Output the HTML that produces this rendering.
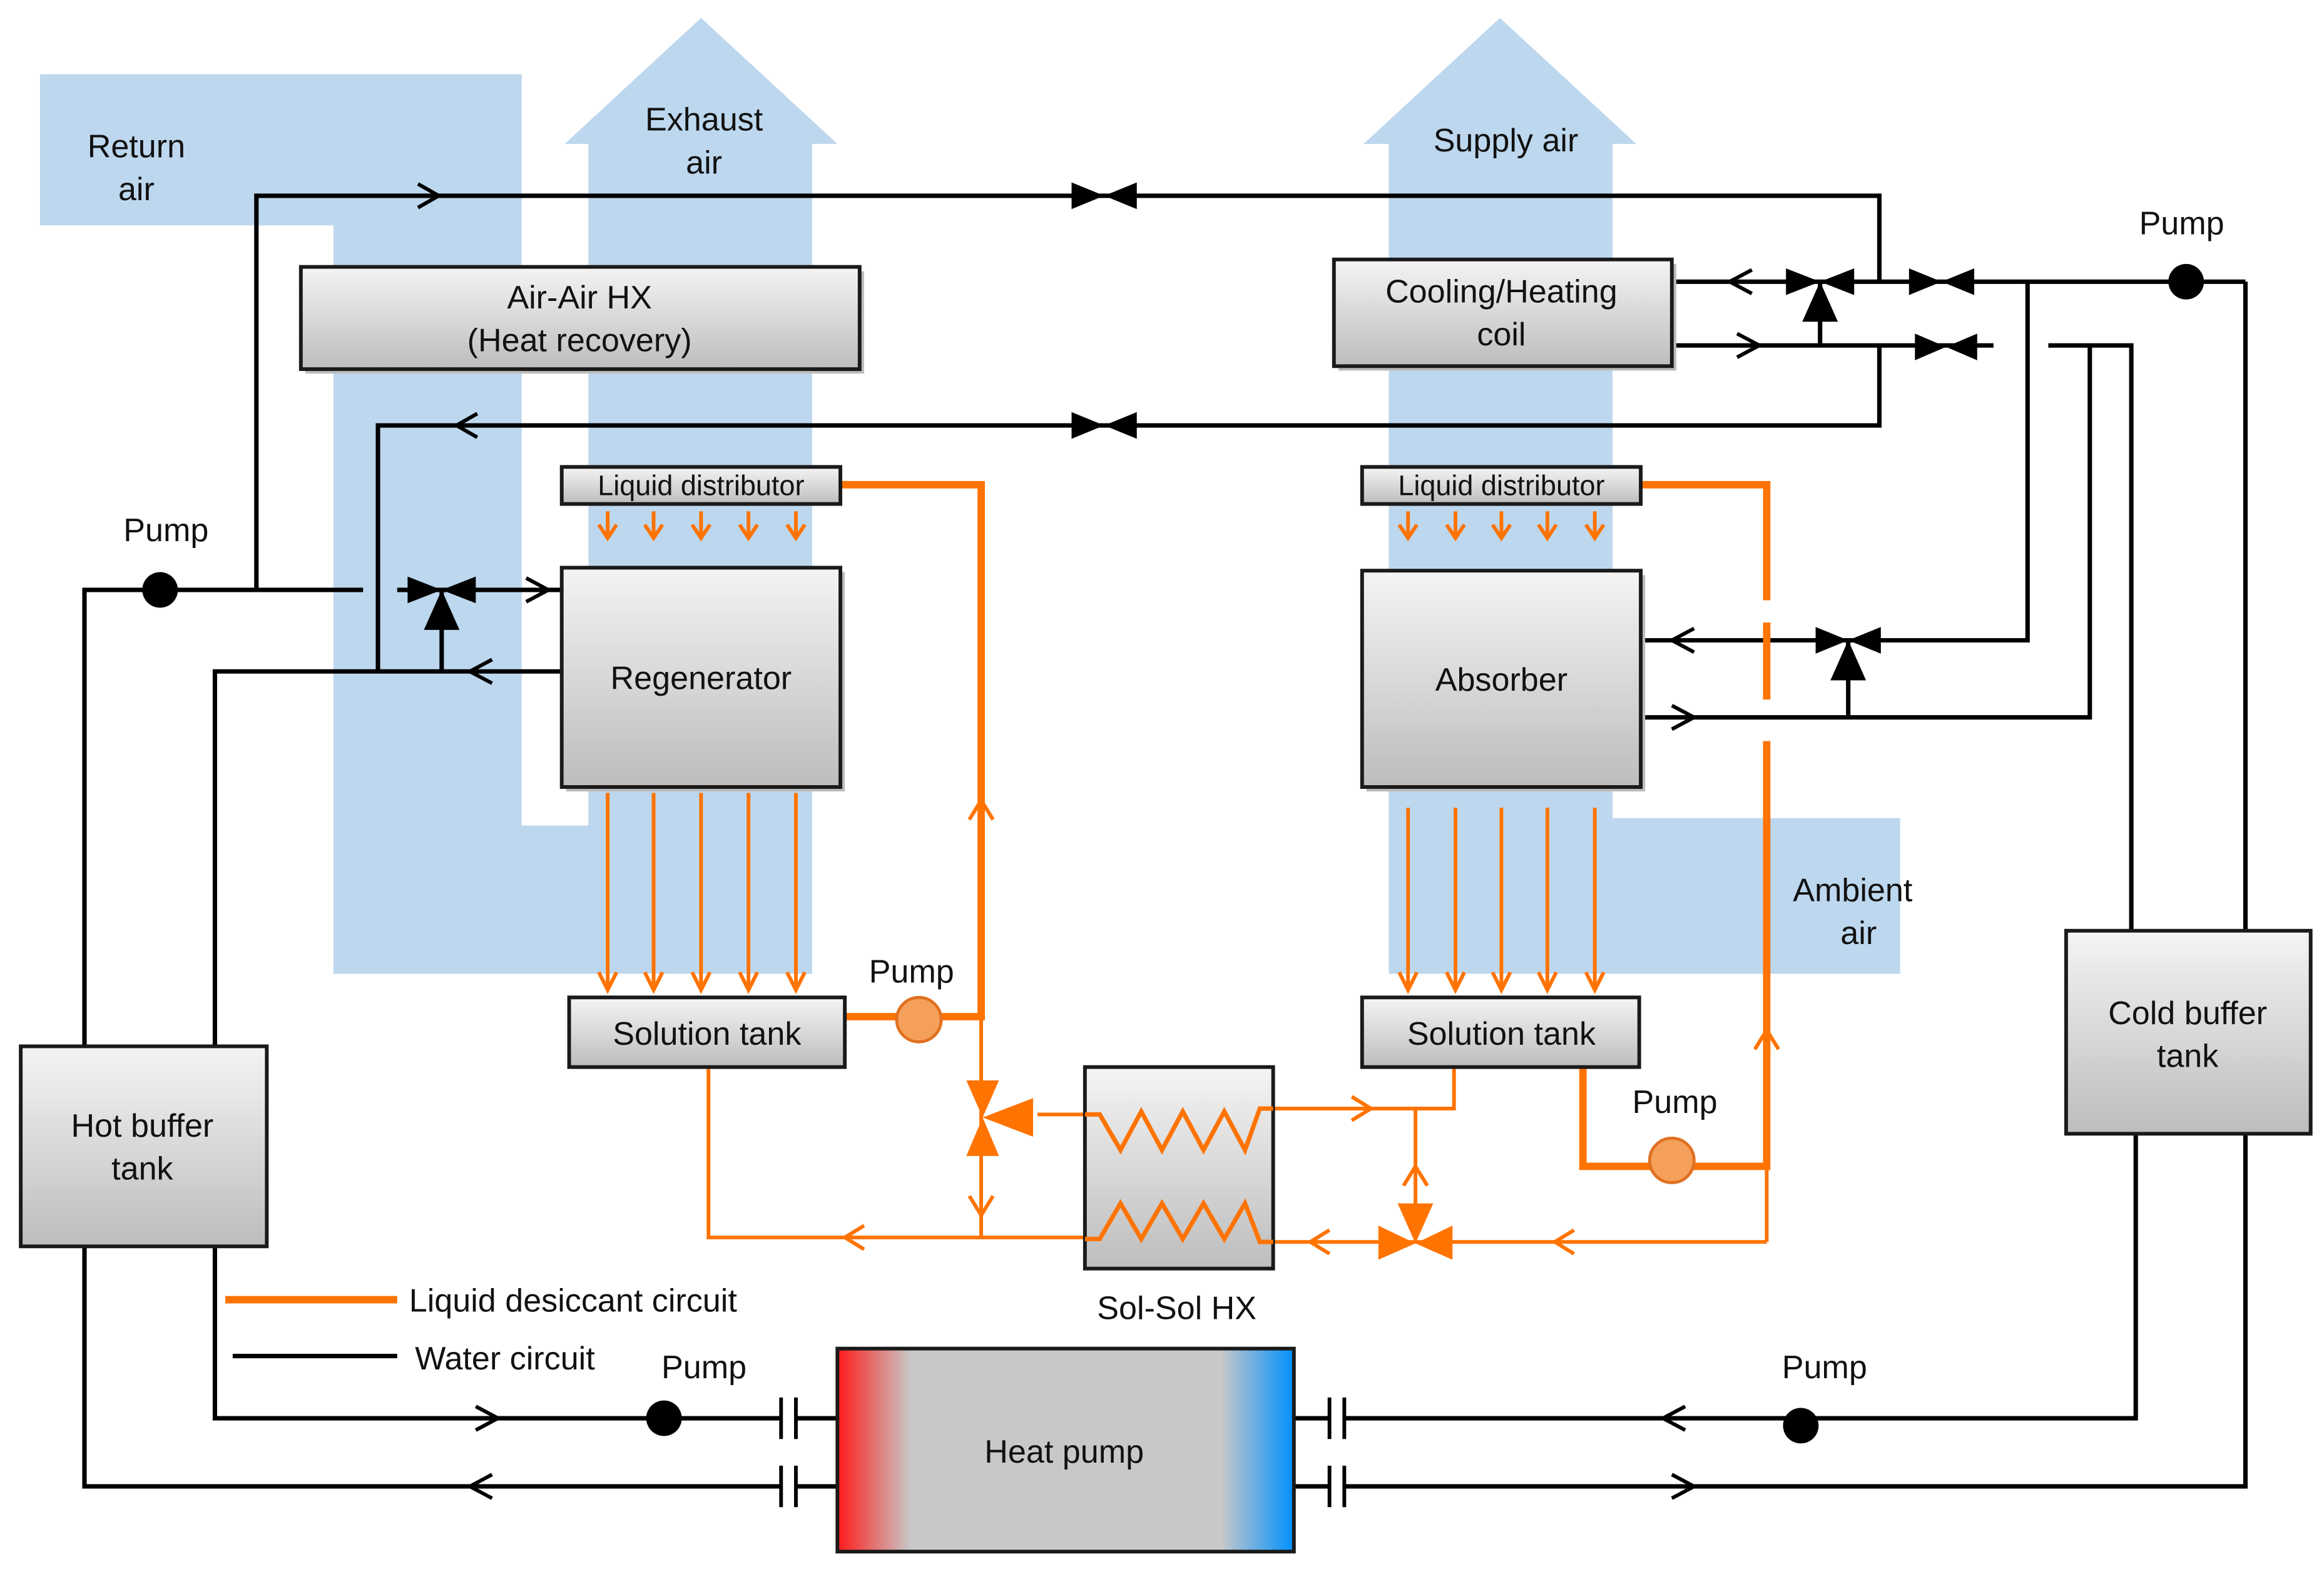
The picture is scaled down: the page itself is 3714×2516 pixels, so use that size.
<!DOCTYPE html>
<html><head><meta charset="utf-8">
<style>html,body{margin:0;padding:0;background:#fff}svg{display:block}</style>
</head><body>
<svg xmlns="http://www.w3.org/2000/svg" width="3714" height="2516" viewBox="0 0 1568 1062" font-family="Liberation Sans, sans-serif">
<defs>
<linearGradient id="g" x1="0" y1="0" x2="0" y2="1"><stop offset="0" stop-color="#f4f4f4"/><stop offset="1" stop-color="#bdbdbd"/></linearGradient>
<linearGradient id="hp" x1="0" y1="0" x2="1" y2="0"><stop offset="0" stop-color="#ff1a1a"/><stop offset="0.16" stop-color="#c8c8c8"/><stop offset="0.84" stop-color="#c8c8c8"/><stop offset="1" stop-color="#0090ff"/></linearGradient>
</defs>
<rect width="1568" height="1062" fill="#fff"/>
<g fill="#bdd7ee">
<polygon points="27,50 352,50 352,557 397,557 397,97 381,97 473,12 565,97 548,97 548,657 225,657 225,152 27,152"/>
<polygon points="920,97 1012,12 1104,97 1088,97 1088,552 1282,552 1282,657 937,657 937,97"/>
</g>
<!-- black water lines -->
<g stroke="#000" stroke-width="3" fill="none">
<polyline points="173,398 173,132 1268,132 1268,190"/>
<polyline points="1268,233 1268,287 255,287 255,453"/>
<line x1="1128" y1="190" x2="1515" y2="190"/>
<line x1="1515" y1="190" x2="1515" y2="628"/>
<line x1="1128" y1="233" x2="1345" y2="233"/>
<polyline points="1382,233 1438,233 1438,628"/>
<polyline points="1107,432 1368,432 1368,190"/>
<polyline points="1107,484 1410,484 1410,233"/>
<line x1="1228" y1="190" x2="1228" y2="233"/>
<line x1="1247" y1="432" x2="1247" y2="484"/>
<polyline points="245,398 57,398 57,706"/>
<line x1="268" y1="398" x2="379" y2="398"/>
<polyline points="379,453 145,453 145,706"/>
<line x1="298" y1="398" x2="298" y2="453"/>
<polyline points="145,841 145,957 527,957"/>
<polyline points="57,841 57,1003 527,1003"/>
<line x1="537" y1="957" x2="565" y2="957"/><line x1="537" y1="1003" x2="565" y2="1003"/>
<line x1="873" y1="957" x2="897" y2="957"/><line x1="873" y1="1003" x2="897" y2="1003"/>
<polyline points="907,957 1441,957 1441,765"/>
<polyline points="907,1003 1515,1003 1515,765"/>
<g stroke-width="2.5">
<line x1="527" y1="943" x2="527" y2="971"/><line x1="537" y1="943" x2="537" y2="971"/>
<line x1="527" y1="989" x2="527" y2="1017"/><line x1="537" y1="989" x2="537" y2="1017"/>
<line x1="897" y1="943" x2="897" y2="971"/><line x1="907" y1="943" x2="907" y2="971"/>
<line x1="897" y1="989" x2="897" y2="1017"/><line x1="907" y1="989" x2="907" y2="1017"/>
</g>
<line x1="157" y1="915" x2="268" y2="915"/>
<g stroke-width="2.5">
<polyline points="282,124 296,132 282,140"/>
<polyline points="322,279 308,287 322,295"/>
<polyline points="1182,182 1167,190 1182,198"/>
<polyline points="1172,225 1187,233 1172,241"/>
<polyline points="1143,424 1128,432 1143,440"/>
<polyline points="1128,476 1143,484 1128,492"/>
<polyline points="355,390 370,398 355,406"/>
<polyline points="332,445 317,453 332,461"/>
<polyline points="321,949 336,957 321,965"/>
<polyline points="332,995 317,1003 332,1011"/>
<polyline points="1137,949 1122,957 1137,965"/>
<polyline points="1128,995 1143,1003 1128,1011"/>
</g>
</g>
<!-- valves -->
<g fill="#000">
<polygon points="723,123 723,141 745,132"/><polygon points="767,123 767,141 745,132"/>
<polygon points="723,278 723,296 745,287"/><polygon points="767,278 767,296 745,287"/>
<polygon points="1288,181 1288,199 1310,190"/><polygon points="1332,181 1332,199 1310,190"/>
<polygon points="1292,225 1292,243 1313,234"/><polygon points="1334,225 1334,243 1313,234"/>
<polygon points="1205,181 1205,199 1228,190"/><polygon points="1251,181 1251,199 1228,190"/><polygon points="1228,190 1216,217 1240,217"/>
<polygon points="1225,423 1225,441 1247,432"/><polygon points="1269,423 1269,441 1247,432"/><polygon points="1247,432 1235,459 1259,459"/>
<polygon points="275,389 275,407 298,398"/><polygon points="321,389 321,407 298,398"/><polygon points="298,398 286,425 310,425"/>
<circle cx="108" cy="398" r="12"/>
<circle cx="1475" cy="190" r="12"/>
<circle cx="448" cy="957" r="12"/>
<circle cx="1215" cy="962" r="12"/>
</g>
<!-- orange -->
<g stroke="#ff7300" fill="none">
<g stroke-width="5">
<polyline points="567,327 662,327 662,686 570,686"/>
<polyline points="1107,327 1192,327 1192,405"/>
<polyline points="1192,420 1192,472"/>
<polyline points="1192,500 1192,787 1068,787 1068,720"/>
<line x1="152" y1="877" x2="268" y2="877"/>
</g>
<g stroke-width="2.5">
<line x1="662" y1="686" x2="662" y2="835"/>
<polyline points="478,720 478,835 732,835"/>
<line x1="700" y1="752" x2="732" y2="752"/>
<polyline points="859,748 981,748 981,720"/>
<line x1="955" y1="748" x2="955" y2="835"/>
<line x1="859" y1="838" x2="1192" y2="838"/>
<line x1="1192" y1="787" x2="1192" y2="838"/>
<polyline points="654,553 662,540 670,553"/>
<polyline points="1184,708 1192,695 1200,708"/>
<polyline points="583,827 570,835 583,843"/>
<polyline points="654,807 662,820 670,807"/>
<polyline points="912,740 925,748 912,756"/>
<polyline points="947,800 955,787 963,800"/>
<polyline points="897,830 884,838 897,846"/>
<polyline points="1062,830 1049,838 1062,846"/>
<g>
<line x1="410" y1="345" x2="410" y2="362"/><polyline points="404,354 410,363 416,354"/>
<line x1="441" y1="345" x2="441" y2="362"/><polyline points="435,354 441,363 447,354"/>
<line x1="473" y1="345" x2="473" y2="362"/><polyline points="467,354 473,363 479,354"/>
<line x1="505" y1="345" x2="505" y2="362"/><polyline points="499,354 505,363 511,354"/>
<line x1="537" y1="345" x2="537" y2="362"/><polyline points="531,354 537,363 543,354"/>
<line x1="950" y1="345" x2="950" y2="362"/><polyline points="944,354 950,363 956,354"/>
<line x1="982" y1="345" x2="982" y2="362"/><polyline points="976,354 982,363 988,354"/>
<line x1="1013" y1="345" x2="1013" y2="362"/><polyline points="1007,354 1013,363 1019,354"/>
<line x1="1044" y1="345" x2="1044" y2="362"/><polyline points="1038,354 1044,363 1050,354"/>
<line x1="1076" y1="345" x2="1076" y2="362"/><polyline points="1070,354 1076,363 1082,354"/>
<line x1="410" y1="535" x2="410" y2="667"/><polyline points="404,656 410,668 416,656"/>
<line x1="441" y1="535" x2="441" y2="667"/><polyline points="435,656 441,668 447,656"/>
<line x1="473" y1="535" x2="473" y2="667"/><polyline points="467,656 473,668 479,656"/>
<line x1="505" y1="535" x2="505" y2="667"/><polyline points="499,656 505,668 511,656"/>
<line x1="537" y1="535" x2="537" y2="667"/><polyline points="531,656 537,668 543,656"/>
<line x1="950" y1="545" x2="950" y2="667"/><polyline points="944,656 950,668 956,656"/>
<line x1="982" y1="545" x2="982" y2="667"/><polyline points="976,656 982,668 988,656"/>
<line x1="1013" y1="545" x2="1013" y2="667"/><polyline points="1007,656 1013,668 1019,656"/>
<line x1="1044" y1="545" x2="1044" y2="667"/><polyline points="1038,656 1044,668 1050,656"/>
<line x1="1076" y1="545" x2="1076" y2="667"/><polyline points="1070,656 1076,668 1082,656"/>
</g>
</g>
</g>
<g fill="#ff7300">
<polygon points="652,729 674,729 663,754"/><polygon points="652,780 674,780 663,754"/>
<polygon points="663,754 697,741 697,767"/>
<polygon points="930,827 930,850 955,839"/><polygon points="980,827 980,850 955,839"/>
<polygon points="955,839 943,812 967,812"/>
</g>
<circle cx="620" cy="688" r="15" fill="#f5a05a" stroke="#e07020" stroke-width="2"/>
<circle cx="1128" cy="783" r="15" fill="#f5a05a" stroke="#e07020" stroke-width="2"/>
<!-- boxes -->
<g stroke="#1a1a1a" stroke-width="2.5" fill="url(#g)">
<rect x="206" y="183" width="377" height="69" fill="#bbb" stroke="none"/>
<rect x="203" y="180" width="377" height="69"/>
<rect x="903" y="178" width="228" height="72" fill="#bbb" stroke="none"/>
<rect x="900" y="175" width="228" height="72"/>
<rect x="379" y="315" width="188" height="25"/>
<rect x="919" y="315" width="188" height="25"/>
<rect x="382" y="386" width="188" height="148" fill="#bbb" stroke="none"/>
<rect x="379" y="383" width="188" height="148"/>
<rect x="922" y="388" width="188" height="146" fill="#bbb" stroke="none"/>
<rect x="919" y="385" width="188" height="146"/>
<rect x="384" y="673" width="186" height="47"/>
<rect x="919" y="673" width="187" height="47"/>
<rect x="732" y="720" width="127" height="136"/>
<rect x="14" y="706" width="166" height="135"/>
<rect x="1394" y="628" width="165" height="137"/>
<rect x="565" y="910" width="308" height="137" fill="url(#hp)"/>
</g>
<g stroke="#ff7300" stroke-width="3" fill="none">
<polyline points="732,752 742,752 756,776 770,750 784,776 798,750 812,776 826,750 840,776 850,748 859,748"/>
<polyline points="732,836 742,836 756,812 770,836 784,812 798,836 812,812 826,836 840,812 850,838 859,838"/>
</g>
<!-- text -->
<g font-size="22" fill="#111" text-anchor="middle">
<text x="92" y="106">Return</text><text x="92" y="135">air</text>
<text x="475" y="88">Exhaust</text><text x="475" y="117">air</text>
<text x="1016" y="102">Supply air</text>
<text x="391" y="208">Air-Air HX</text><text x="391" y="237">(Heat recovery)</text>
<text x="1013" y="204">Cooling/Heating</text><text x="1013" y="233">coil</text>
<text x="473" y="334" font-size="19">Liquid distributor</text>
<text x="1013" y="334" font-size="19">Liquid distributor</text>
<text x="473" y="465">Regenerator</text>
<text x="1013" y="466">Absorber</text>
<text x="477" y="705">Solution tank</text>
<text x="1013" y="705">Solution tank</text>
<text x="1250" y="608">Ambient</text><text x="1254" y="637">air</text>
<text x="1476" y="691">Cold buffer</text><text x="1476" y="720">tank</text>
<text x="96" y="767">Hot buffer</text><text x="96" y="796">tank</text>
<text x="794" y="890">Sol-Sol HX</text>
<text x="718" y="987">Heat pump</text>
<text x="112" y="365">Pump</text>
<text x="1472" y="158">Pump</text>
<text x="615" y="663">Pump</text>
<text x="1130" y="751">Pump</text>
<text x="475" y="930">Pump</text>
<text x="1231" y="930">Pump</text>
<text x="276" y="885" text-anchor="start">Liquid desiccant circuit</text>
<text x="280" y="924" text-anchor="start">Water circuit</text>
</g>
</svg>
</body></html>
